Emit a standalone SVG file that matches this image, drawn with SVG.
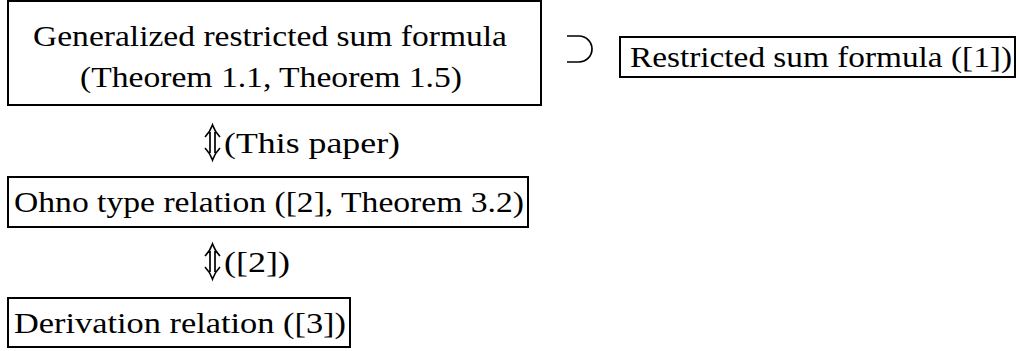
<svg xmlns="http://www.w3.org/2000/svg" width="1020" height="351" viewBox="0 0 1020 351">
<style>
.box{fill:#fff;stroke:#000;stroke-width:2}
.arr{fill:none;stroke:#000;stroke-width:1.7;stroke-linejoin:miter}
</style>
<rect width="1020" height="351" fill="#fff"/>
<g font-family="'Liberation Serif', 'Times New Roman', serif" font-size="30" fill="#000">
<g id="node-generalized">
<rect class="box" x="8" y="1" width="533" height="104"/>
<text x="33" y="46" textLength="474" lengthAdjust="spacingAndGlyphs">Generalized restricted sum formula</text>
<text x="80" y="87" textLength="382" lengthAdjust="spacingAndGlyphs">(Theorem 1.1, Theorem 1.5)</text>
</g>
<g id="node-restricted">
<rect class="box" x="620" y="37" width="395" height="40"/>
<text x="630" y="67" textLength="382" lengthAdjust="spacingAndGlyphs">Restricted sum formula ([1])</text>
</g>
<g id="node-ohno">
<rect class="box" x="8" y="177" width="520" height="50"/>
<text x="14" y="212" textLength="510" lengthAdjust="spacingAndGlyphs">Ohno type relation ([2], Theorem 3.2)</text>
</g>
<g id="node-derivation">
<rect class="box" x="8" y="298" width="342" height="49"/>
<text x="14" y="333" textLength="332" lengthAdjust="spacingAndGlyphs">Derivation relation ([3])</text>
</g>
<g id="connectors">
<path class="arr" d="M567,36 H579 A13,13 0 0 1 579,62 H567"/>
<g id="arrow1">
<path class="arr" d="M205,137 Q210,132 212.5,125 Q215,132 220,137 M210,132 V153 M215,132 V153 M205,148 Q210,153 212.5,160 Q215,153 220,148"/>
<text x="224" y="153" textLength="176" lengthAdjust="spacingAndGlyphs">(This paper)</text>
</g>
<g id="arrow2">
<path class="arr" d="M205,256 Q210,251 212.5,244 Q215,251 220,256 M210,251 V272 M215,251 V272 M205,267 Q210,272 212.5,279 Q215,272 220,267"/>
<text x="224" y="272" textLength="66" lengthAdjust="spacingAndGlyphs">([2])</text>
</g>
</g>
</g>
</svg>
